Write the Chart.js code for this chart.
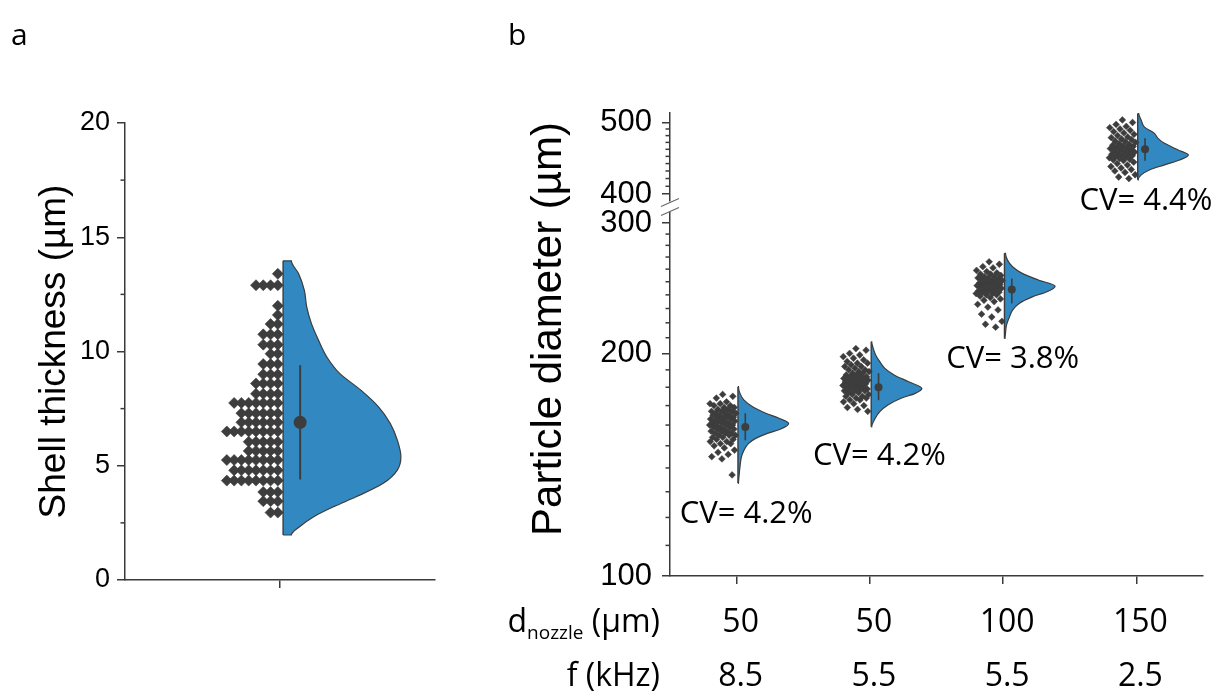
<!DOCTYPE html>
<html>
<head>
<meta charset="utf-8">
<title>Shell thickness / particle diameter</title>
<script src="https://cdn.jsdelivr.net/npm/chart.js@4.4.1/dist/chart.umd.min.js"></script>
<style>
  html, body { margin: 0; padding: 0; background: #fff; }
  #wrap { position: relative; width: 1225px; height: 693px; overflow: hidden; }
  #chartA { position: absolute; left: 0; top: 0; }
  #chartB { position: absolute; left: 480px; top: 0; }
</style>
</head>
<body>
<div id="wrap">
  <canvas id="chartA" width="480" height="693" style="width:480px;height:693px"></canvas>
  <canvas id="chartB" width="745" height="693" style="width:745px;height:693px"></canvas>
</div>
<script>
// ─── DATA: panel a (shell thickness, µm) ───────────────────────

const shellThickness = [
  13.4,
  12.9, 12.9, 12.9, 12.9,
  12.0, 11.6, 11.2, 11.2,
  10.75, 10.75, 10.75,
  10.3, 10.3, 10.3,
  9.9, 9.9,
  9.45, 9.45, 9.45,
  9.0, 9.0, 9.0,
  8.6, 8.6, 8.6, 8.6,
  8.15, 8.15, 8.15, 8.15,
  7.75, 7.75, 7.75, 7.75, 7.75, 7.75, 7.75,
  7.3, 7.3, 7.3, 7.3, 7.3, 7.3,
  6.9, 6.9, 6.9, 6.9, 6.9, 6.9,
  6.5, 6.5, 6.5, 6.5, 6.5, 6.5, 6.5, 6.5,
  6.05, 6.05, 6.05, 6.05, 6.05,
  5.65, 5.65, 5.65, 5.65, 5.65,
  5.25, 5.25, 5.25, 5.25, 5.25, 5.25, 5.25, 5.25,
  4.8, 4.8, 4.8, 4.8, 4.8, 4.8, 4.8,
  4.35, 4.35, 4.35, 4.35, 4.35, 4.35, 4.35, 4.35,
  3.85, 3.85, 3.85,
  3.45, 3.45, 3.45,
  2.95, 2.95
];
// Violin outline: levels (µm) and relative density (max = 1)
const shellViolinLevels = [13.97, 13.42, 12.69, 11.96, 11.23, 10.5, 9.77, 9.04, 8.31, 7.58, 6.85, 6.12, 5.39, 4.81, 4.23, 3.64, 3.21, 2.77, 2.33, 1.97];
const shellViolinDensity = [0.07, 0.13, 0.18, 0.2, 0.24, 0.3, 0.37, 0.48, 0.66, 0.81, 0.91, 0.97, 1.0, 0.97, 0.85, 0.62, 0.43, 0.26, 0.14, 0.07];
const shellMean = 6.9;
const shellSdRange = [4.4, 9.4];
const shellTicks = [0, 5, 10, 15, 20];
const shellMinorTicks = [2.5, 7.5, 12.5, 17.5];

// ─── DATA: panel b (particle diameter, µm) ─────────────────────

const groups = [1, 2, 3, 4];
const nozzleDiameters = ['50', '50', '100', '150'];
const frequencies = ['8.5', '5.5', '5.5', '2.5'];
const cvLabels = ['CV= 4.2%', 'CV= 4.2%', 'CV= 3.8%', 'CV= 4.4%'];
const diameterMeans = [159, 180, 244, 460];
const diameterSdLow = [152.6, 172.9, 233.7, 444];
const diameterSdHigh = [166, 188, 252.5, 476];

const diameters1 = [176, 175, 174, 172, 171, 171, 170, 170, 169, 169, 168, 168, 167, 167, 167, 166, 166, 166, 165, 165, 165, 164, 164, 164, 164, 163, 163, 163, 162, 162, 162, 162, 161, 161, 161, 160, 160, 160, 160, 159, 159, 159, 158, 158, 158, 157, 157, 157, 156, 156, 156, 155, 155, 155, 154, 154, 153, 153, 152, 152, 151, 151, 150, 149, 148, 147, 146, 145, 144, 137];
const diameters2 = [203, 202, 200, 199, 198, 197, 196, 195, 194, 194, 193, 192, 192, 191, 190, 190, 189, 189, 188, 188, 187, 187, 186, 186, 186, 185, 185, 185, 184, 184, 184, 183, 183, 183, 182, 182, 182, 181, 181, 181, 180, 180, 180, 179, 179, 179, 178, 178, 178, 177, 177, 176, 176, 175, 175, 174, 174, 173, 173, 172, 171, 170, 169, 168, 167];
const diameters3 = [266, 264, 262, 261, 259, 258, 257, 256, 256, 255, 254, 254, 253, 253, 252, 252, 251, 251, 250, 250, 249, 249, 248, 248, 248, 247, 247, 246, 246, 245, 245, 244, 244, 243, 243, 242, 242, 241, 241, 240, 240, 239, 238, 237, 236, 235, 233, 231, 229, 226, 224, 221, 219, 217];
const diameters4 = [504, 500, 497, 494, 492, 490, 488, 486, 484, 482, 480, 478, 477, 475, 474, 472, 471, 470, 468, 467, 466, 465, 464, 463, 462, 461, 460, 459, 458, 457, 456, 455, 454, 453, 452, 451, 450, 449, 448, 447, 446, 445, 444, 442, 440, 438, 436, 434, 432, 430, 428, 425, 422, 420];

const violin1Levels = [180.3, 176.6, 172.9, 169.4, 166.0, 163.4, 160.8, 158.3, 155.9, 153.5, 151.1, 148.0, 145.0, 140.5, 136.2, 133.5];
const violin1Density = [0.01, 0.04, 0.12, 0.29, 0.55, 0.81, 1.0, 0.87, 0.58, 0.35, 0.21, 0.12, 0.07, 0.04, 0.02, 0.01];
const violin2Levels = [207.4, 203.2, 198.9, 194.9, 190.9, 186.9, 183.0, 179.3, 176.6, 173.9, 170.3, 166.8, 163.4, 159.1];
const violin2Density = [0.01, 0.04, 0.09, 0.17, 0.27, 0.46, 0.75, 1.0, 0.87, 0.59, 0.33, 0.17, 0.08, 0.01];
const violin3Levels = [273.1, 267.4, 261.9, 256.6, 251.2, 246.6, 242.3, 238.5, 233.7, 228.9, 224.1, 218.4, 212.8, 209.5];
const violin3Density = [0.02, 0.06, 0.16, 0.35, 0.68, 1.0, 0.84, 0.55, 0.29, 0.16, 0.1, 0.04, 0.02, 0.01];
const violin4Levels = [514.2, 503.6, 493.3, 483.3, 475.9, 468.6, 459.0, 451.9, 445.0, 438.2, 431.4, 424.8, 418.3];
const violin4Density = [0.02, 0.07, 0.13, 0.33, 0.4, 0.53, 0.8, 1.0, 0.83, 0.53, 0.23, 0.07, 0.01];

const diameterTicksLow = [100, 200, 300];
const diameterTicksHigh = [400, 500];
const diameterMinorLow = [110, 120, 130, 140, 150, 160, 170, 180, 190, 210, 220, 230, 240, 250, 260, 270, 280, 290];
const diameterMinorHigh = [410, 420, 430, 440, 450, 460, 470, 480, 490];

// ─── STYLE / LAYOUT ────────────────────────────────────────────

const AXIS_COLOR = '#3a3a3a';
const POINT_COLOR = '#3d3d3d';
const VIOLIN_FILL = '#3288c0';
const VIOLIN_LINE = '#3c3c3c';
const ARIAL = "'Liberation Sans', Arial, sans-serif";
const CALIBRI = "'Open Sans', 'Noto Sans', sans-serif";

const EDGE_OFFSET = 0.01;     // flat side of the half violin, right of the category
const VIOLIN_WIDTH = 0.38;    // width of density = 1, in category units
const MEAN_OFFSET = 0.065;
const SWARM_FIRST = 0.017;
const SWARM_STEP = 0.0235;
const STRIP_WIDTH = 0.2;
const cvOffsetPx = [29, 27, 19, 19];

const gridStyle = { drawOnChartArea: false, drawTicks: true, tickLength: 8, color: AXIS_COLOR, lineWidth: 1.5 };
const borderStyle = { display: true, color: AXIS_COLOR, width: 1.5 };

// ─── HELPERS ───────────────────────────────────────────────────

function halfViolin(levels, density, group, axisIds) {
  const edge = group + EDGE_OFFSET;
  const top = levels[0];
  const bottom = levels[levels.length - 1];
  const outline = [{ x: edge, y: top }]
    .concat(levels.map((v, i) => ({ x: edge + density[i] * VIOLIN_WIDTH, y: v })))
    .concat([{ x: edge, y: bottom }]);

  return [
    {
      type: 'line', indexAxis: 'y', data: outline, ...axisIds,
      fill: { value: edge }, backgroundColor: VIOLIN_FILL,
      borderColor: VIOLIN_LINE, borderWidth: 1.2,
      pointRadius: 0, cubicInterpolationMode: 'monotone', clip: false, order: 6
    },
    {
      type: 'line', indexAxis: 'y', data: [{ x: edge, y: top }, { x: edge, y: bottom }], ...axisIds,
      borderColor: VIOLIN_LINE, borderWidth: 1.4, pointRadius: 0, fill: false, clip: false, order: 5
    }
  ];
}

function meanMarker(mean, lo, hi, group, axisIds, dotRadius, lineWidth) {
  const x = group + MEAN_OFFSET;
  return [
    {
      type: 'line', data: [{ x, y: lo }, { x, y: hi }], ...axisIds,
      borderColor: POINT_COLOR, borderWidth: lineWidth, pointRadius: 0, fill: false, clip: false, order: 1
    },
    {
      type: 'scatter', data: [{ x, y: mean }], ...axisIds,
      pointRadius: dotRadius, backgroundColor: POINT_COLOR, borderWidth: 0, clip: false, order: 0
    }
  ];
}

// Beeswarm rows: equal values are laid out leftwards from the violin edge
function swarmPoints(values, group) {
  const counts = {};
  return values.map(v => {
    const k = counts[v] || 0;
    counts[v] = k + 1;
    return { x: group + EDGE_OFFSET - SWARM_FIRST - k * SWARM_STEP, y: v };
  });
}

// Deterministic strip jitter (golden ratio sequence) left of the violin
function stripPoints(values, group) {
  return values.map((v, i) => {
    const u = (0.5 + i * 0.618034) % 1;
    return { x: group + EDGE_OFFSET - 0.015 - u * STRIP_WIDTH, y: v };
  });
}

function drawRotated(ctx, text, x, y, font) {
  ctx.save();
  ctx.translate(x, y);
  ctx.rotate(-Math.PI / 2);
  ctx.font = font;
  ctx.textAlign = 'center';
  ctx.textBaseline = 'middle';
  ctx.fillText(text, 0, 0);
  ctx.restore();
}

// ─── PLUGINS ───────────────────────────────────────────────────

const minorTickPlugin = {
  id: 'minorTicks',
  afterDraw(chart, args, opts) {
    const ctx = chart.ctx;
    ctx.save();
    ctx.strokeStyle = AXIS_COLOR;
    ctx.lineWidth = 1.5;
    for (const item of opts.items || []) {
      const scale = chart.scales[item.scaleID];
      for (const v of item.values) {
        const y = scale.getPixelForValue(v);
        ctx.beginPath();
        ctx.moveTo(scale.right - item.length, y);
        ctx.lineTo(scale.right, y);
        ctx.stroke();
      }
    }
    ctx.restore();
  }
};

const panelAText = {
  id: 'panelAText',
  afterDraw(chart) {
    const ctx = chart.ctx;
    ctx.save();
    ctx.fillStyle = '#000';
    ctx.font = `30px ${CALIBRI}`;
    ctx.textAlign = 'left';
    ctx.textBaseline = 'alphabetic';
    ctx.fillText('a', 11, 45);
    drawRotated(ctx, 'Shell thickness (µm)', 55, (chart.chartArea.top + chart.chartArea.bottom) / 2, `37px ${ARIAL}`);
    ctx.restore();
  }
};

const panelBText = {
  id: 'panelBText',
  afterDraw(chart) {
    const ctx = chart.ctx;
    const xScale = chart.scales.x;
    const area = chart.chartArea;
    ctx.save();
    ctx.fillStyle = '#000';

    // panel letter and axis title
    ctx.font = `30px ${CALIBRI}`;
    ctx.textAlign = 'left';
    ctx.textBaseline = 'alphabetic';
    ctx.fillText('b', 28, 45);
    drawRotated(ctx, 'Particle diameter (µm)', 69, 329, `42px ${ARIAL}`);

    // CV annotations under each violin
    const violinBottoms = [violin1Levels, violin2Levels, violin3Levels, violin4Levels].map(l => l[l.length - 1]);
    ctx.font = `31px ${CALIBRI}`;
    groups.forEach((g, i) => {
      const yScale = i === 3 ? chart.scales.y2 : chart.scales.y;
      const yCap = yScale.getPixelForValue(violinBottoms[i]) + cvOffsetPx[i];
      ctx.fillText(cvLabels[i], xScale.getPixelForValue(g) - 57, yCap + 11);
    });

    // table of nozzle diameter / frequency below the axis
    const row1 = 632;
    const row2 = 686;
    const rightEdge = area.left - 10;
    const big = `32px ${CALIBRI}`;
    const small = `19px ${CALIBRI}`;
    ctx.font = big;
    const wD = ctx.measureText('d').width;
    const wRest = ctx.measureText(' (µm)').width;
    ctx.font = small;
    const wSub = ctx.measureText('nozzle').width;
    const x0 = rightEdge - (wD + wSub + wRest);
    ctx.font = big;
    ctx.fillText('d', x0, row1);
    ctx.font = small;
    ctx.fillText('nozzle', x0 + wD, row1 + 7);
    ctx.font = big;
    ctx.fillText(' (µm)', x0 + wD + wSub, row1);
    ctx.textAlign = 'right';
    ctx.fillText('f (kHz)', rightEdge, row2);

    ctx.textAlign = 'center';
    groups.forEach((g, i) => {
      const px = xScale.getPixelForValue(g) + 4;
      ctx.fillText(nozzleDiameters[i], px, row1);
      ctx.fillText(frequencies[i], px, row2);
    });
    ctx.restore();
  }
};

const axisBreak = {
  id: 'axisBreak',
  afterDraw(chart) {
    const ctx = chart.ctx;
    const low = chart.scales.y;
    const xAxis = low.right;
    const yb = low.top;
    ctx.save();
    ctx.fillStyle = '#fff';
    ctx.fillRect(xAxis - 3, yb - 5, 6, 10);
    ctx.strokeStyle = '#6a6a6a';
    ctx.lineWidth = 1.2;
    [-4, 5].forEach(dy => {
      ctx.beginPath();
      ctx.moveTo(xAxis - 9, yb + dy + 4);
      ctx.lineTo(xAxis + 9, yb + dy - 4);
      ctx.stroke();
    });
    ctx.restore();
  }
};

// ─── PANEL A ───────────────────────────────────────────────────

const axisA = { xAxisID: 'x', yAxisID: 'y' };

new Chart(document.getElementById('chartA'), {
  type: 'scatter',
  data: {
    datasets: [
      ...halfViolin(shellViolinLevels, shellViolinDensity, 1, axisA),
      {
        type: 'scatter', data: swarmPoints(shellThickness, 1), ...axisA,
        pointStyle: 'rectRot', pointRadius: 5.5, backgroundColor: POINT_COLOR,
        borderColor: POINT_COLOR, borderWidth: 0.6, clip: false, order: 3
      },
      ...meanMarker(shellMean, shellSdRange[0], shellSdRange[1], 1, axisA, 6.5, 2)
    ]
  },
  options: {
    responsive: false,
    animation: false,
    layout: { padding: { top: 123, right: 45, left: 0, bottom: 0 } },
    plugins: {
      legend: { display: false },
      tooltip: { enabled: false },
      minorTicks: { items: [{ scaleID: 'y', values: shellMinorTicks, length: 4.5 }] }
    },
    scales: {
      x: {
        type: 'linear', min: 0.5, max: 1.5,
        afterBuildTicks: s => { s.ticks = [{ value: 1 }]; },
        ticks: { callback: () => '' },
        grid: gridStyle, border: borderStyle,
        afterFit: s => { s.height = 113; }
      },
      y: {
        type: 'linear', min: 0, max: 20,
        afterBuildTicks: s => { s.ticks = shellTicks.map(v => ({ value: v })); },
        ticks: { font: { family: ARIAL, size: 27 }, color: '#000', padding: 7 },
        grid: gridStyle, border: borderStyle,
        afterFit: s => { s.width = 125; }
      }
    }
  },
  plugins: [minorTickPlugin, panelAText]
});

// ─── PANEL B ───────────────────────────────────────────────────

const axisLow = { xAxisID: 'x', yAxisID: 'y' };
const axisHigh = { xAxisID: 'x', yAxisID: 'y2' };
const groupValues = [diameters1, diameters2, diameters3, diameters4];
const groupLevels = [violin1Levels, violin2Levels, violin3Levels, violin4Levels];
const groupDensity = [violin1Density, violin2Density, violin3Density, violin4Density];

const datasetsB = [];
groups.forEach((g, i) => {
  const ids = i === 3 ? axisHigh : axisLow;
  datasetsB.push(...halfViolin(groupLevels[i], groupDensity[i], g, ids));
  datasetsB.push({
    type: 'scatter', data: stripPoints(groupValues[i], g), ...ids,
    pointStyle: 'rectRot', pointRadius: 3.4, backgroundColor: POINT_COLOR,
    borderColor: POINT_COLOR, borderWidth: 0.5, clip: false, order: 3
  });
  datasetsB.push(...meanMarker(diameterMeans[i], diameterSdLow[i], diameterSdHigh[i], g, ids, 4, 1.6));
});

const logAxis = (min, max, weight, tickValues) => ({
  type: 'logarithmic', position: 'left', min, max,
  stack: 'diameter', stackWeight: weight,
  afterBuildTicks: s => { s.ticks = tickValues.map(v => ({ value: v })); },
  ticks: { callback: v => String(v), font: { family: ARIAL, size: 31 }, color: '#000', padding: 10 },
  grid: gridStyle, border: borderStyle,
  afterFit: s => { s.width = 190; }
});

new Chart(document.getElementById('chartB'), {
  type: 'scatter',
  data: { datasets: datasetsB },
  options: {
    responsive: false,
    animation: false,
    layout: { padding: { top: 113, right: 22, left: 0, bottom: 0 } },
    plugins: {
      legend: { display: false },
      tooltip: { enabled: false },
      minorTicks: {
        items: [
          { scaleID: 'y', values: diameterMinorLow, length: 4.5 },
          { scaleID: 'y2', values: diameterMinorHigh, length: 4.5 }
        ]
      }
    },
    scales: {
      x: {
        type: 'linear', min: 0.5, max: 4.5,
        afterBuildTicks: s => { s.ticks = groups.map(v => ({ value: v })); },
        ticks: { callback: () => '' },
        grid: gridStyle, border: borderStyle,
        afterFit: s => { s.height = 117; }
      },
      y: logAxis(100, 316, 369.5, diameterTicksLow),
      y2: logAxis(385, 515, 93.5, diameterTicksHigh)
    }
  },
  plugins: [minorTickPlugin, axisBreak, panelBText]
});
</script>
</body>
</html>
